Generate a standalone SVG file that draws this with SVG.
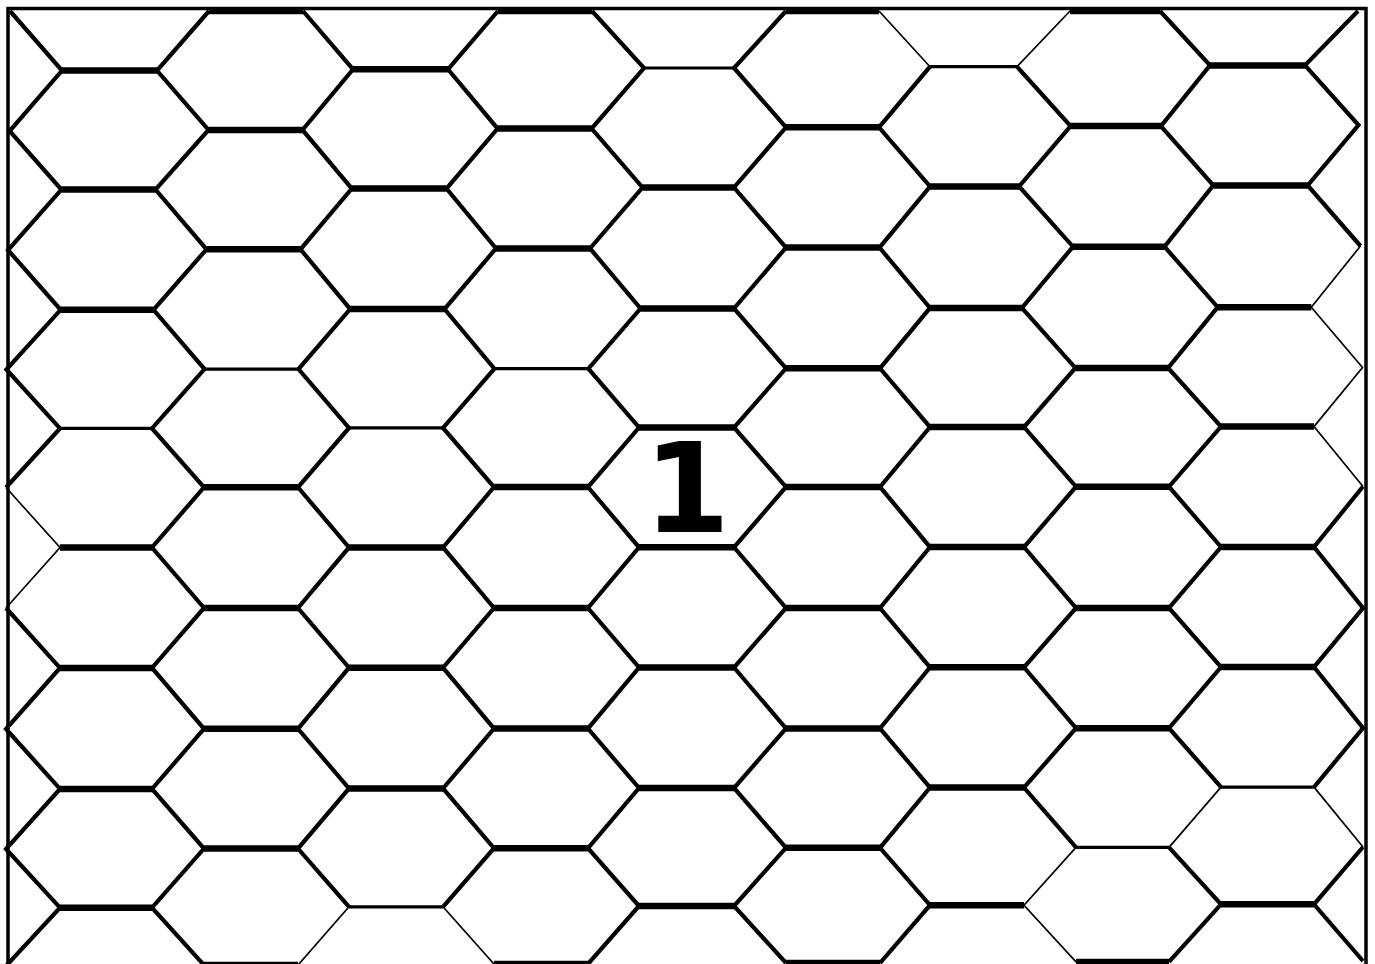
<svg xmlns="http://www.w3.org/2000/svg" width="1375" height="964" viewBox="0 0 1375 964">
<style>
.d{fill:none;stroke:#000;stroke-width:4.2;stroke-linejoin:miter}
.dt{fill:none;stroke:#000;stroke-width:1.7}
.h{fill:none;stroke:#000;stroke-width:6.5}
.ht{fill:none;stroke:#000;stroke-width:3.2}
.b{fill:none;stroke:#000;stroke-width:3.5}
.lbl{font-family:"DejaVu Sans",sans-serif;font-weight:bold;font-size:124px;fill:#000}
</style>
<rect width="1375" height="964" fill="#fff"/>
<g id="mesh">
<g id="columns">
<polyline class="d" points="10,11 62,70.6 9.6,131 61.4,189.6 8,250 60.6,309.8 6.4,369.5 60,428.4 6,487.5"/>
<polyline class="dt" points="6,487.5 60,547.5 6,608"/>
<polyline class="d" points="6,608 60,667.9 6,729 60,788.9 6,849 60,907.7 6,966"/>
<polyline class="d" points="209,11 157,70.6 208.5,129.9 155.5,189.6 206.5,249.3 153.5,309.8 204.5,369.1 152,428.4 204,487.3 152,547.5 204,608 152,667.9 204,728.8 152,788.9 204,848.6 152,907.7 204,965.1"/>
<polyline class="d" points="303,11 353,69.3 302.5,129.9 351.8,188.6 300.5,249.3 350.2,309.1 298.5,369.1 349,427.9 298,487.3 349,547.4 298,608 349,667.7 298,728.8 349,788.4 298,848.6 349,906.8"/>
<polyline class="dt" points="349,906.8 298,965.1"/>
<polyline class="d" points="498,11 448,69.3 497.6,128.6 446.5,188.6 496,248.4 444.5,309.1 494.4,368.7 443,427.9 494,487.1 443,547.4 494,608 443,667.7 494,728.6 443,788.4 494,848.2 443,906.8"/>
<polyline class="dt" points="443,906.8 494,964"/>
<polyline class="d" points="592,11 644,68 591.6,128.6 642.5,187.5 590,248.4 640.5,308.5 588.4,368.7 639,427.5 588,487.1 639,547.3 588,608 639,667.5 588,728.6 639,788 588,848.2 639,906 588,964"/>
<polyline class="d" points="786,11 734,68 786,127.3 734,187.5 786,247.6 734,308.5 786,368.3 734,427.5 786,486.9 734,547.3 786,608 734,667.5 786,728.4 734,788 786,847.8 734,906 786,963"/>
<polyline class="dt" points="879,11 930,66.7"/>
<polyline class="d" points="930,66.7 879,127.3 930,186.5 879.5,247.6 930,307.9 880,368.3 930,427.1 880,486.9 930,547.1 880,608 930,667.3 880,728.4 930,787.6 880,847.8 930,905.2 880,963"/>
<polyline class="dt" points="1070,11 1017,66.7"/>
<polyline class="d" points="1017,66.7 1070.6,126.1 1019.1,186.5 1073,246.7 1021.9,307.9 1075.4,367.9 1024,427.1 1076,486.7 1024,547.1 1076,608 1024,667.3 1076,728.2 1024,787.6 1076,847.4"/>
<polyline class="dt" points="1076,847.4 1024,905.2 1076,961.9"/>
<polyline class="d" points="1160,11 1210,65.4 1160.9,126.1 1213.3,185.4 1164.5,246.7 1217.7,307.2 1168.1,367.9 1221,426.6 1169,486.7 1221,547 1169,608 1221,667.1 1169,728.2 1221,787.1"/>
<polyline class="dt" points="1221,787.1 1169,847.4"/>
<polyline class="d" points="1169,847.4 1221,904.3 1169,961.9"/>
<polyline class="d" points="1358,11 1305,65.4 1358.5,125.1 1307.7,185.4 1360.5,246"/>
<polyline class="dt" points="1360.5,246 1311.3,307.2 1362.5,367.5 1314,426.6 1363,486.5"/>
<polyline class="d" points="1363,486.5 1314,547 1363,608 1314,667.1 1363,728 1314,787.1"/>
<polyline class="dt" points="1314,787.1 1363,847"/>
<polyline class="d" points="1363,847 1314,904.3 1363,961"/>
</g>
<g id="rows">
<path class="h" d="M209 11H303M498 11H592M786 11H879M1070 11H1160
M62 70.6H157M353 69.3H448M1210 65.4H1305
M208.5 129.9H302.5M497.6 128.6H591.6M786 127.3H879M1070.6 126.1H1160.9
M61.4 189.6H155.5M351.8 188.6H446.5M642.5 187.5H734M930 186.5H1019.1M1213.3 185.4H1307.7
M206.5 249.3H300.5M496 248.4H590M786 247.6H879.5M1073 246.7H1164.5
M60.6 309.8H153.5M350.2 309.1H444.5M640.5 308.5H734M930 307.9H1021.9M1217.7 307.2H1311.3
M786 368.3H880M1075.4 367.9H1168.1
M639 427.5H734M930 427.1H1024M1221 426.6H1314
M204 487.3H298M494 487.1H588M786 486.9H880M1076 486.7H1169
M60 547.5H152M349 547.4H443M639 547.3H734M930 547.1H1024M1221 547H1314
M204 608H298M494 608H588M786 608H880M1076 608H1169
M60 667.9H152M349 667.7H443M639 667.5H734M930 667.3H1024M1221 667.1H1314
M204 728.8H298M494 728.6H588M786 728.4H880M1076 728.2H1169
M60 788.9H152M349 788.4H443M639 788H734M930 787.6H1024
M204 848.6H298M494 848.2H588M786 847.8H880
M60 907.7H152M639 906H734M930 905.2H1024M1221 904.3H1314
M204 965.1H298M494 964H588M786 963H880M1076 961.9H1169"/>
<path class="ht" d="M644 68H734M930 66.7H1017
M204.5 369.1H298.5M494.4 368.7H588.4
M60 428.4H152M349 427.9H443
M1221 787.1H1314
M1076 847.4H1169
M349 906.8H443"/>
</g>
<path id="frame" class="b" d="M8 964V8.5H1366V964"/>
</g>
<g id="label">
<text class="lbl" x="687" y="532" text-anchor="middle">1</text>
</g>
</svg>
